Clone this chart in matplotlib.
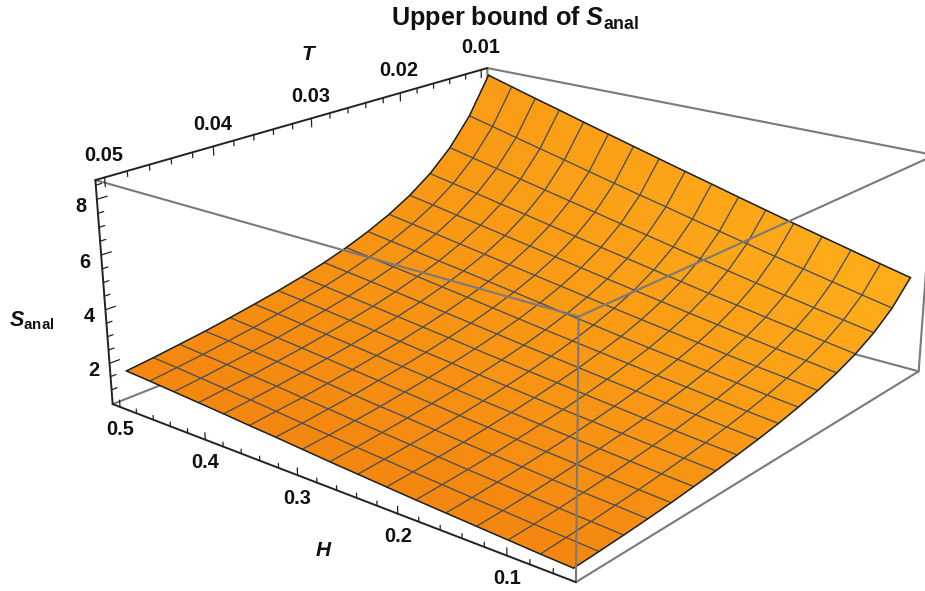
import numpy as np
import matplotlib
matplotlib.use('Agg')
import matplotlib.pyplot as plt
from mpl_toolkits.mplot3d import proj3d

plt.rcParams['font.family'] = ['Liberation Sans', 'DejaVu Sans']
plt.rcParams['mathtext.fontset'] = 'custom'
plt.rcParams['mathtext.bf'] = 'Liberation Sans:bold'
plt.rcParams['mathtext.bfit'] = 'Liberation Sans:italic:bold'

# mesh values, rows go along H, columns along T
H_mesh = [0.05, 0.078125, 0.10625, 0.134375, 0.1625, 0.190625, 0.21875, 0.246875, 0.275,
          0.303125, 0.33125, 0.359375, 0.3875, 0.415625, 0.44375, 0.471875, 0.5]
T_mesh = [0.01, 0.0125, 0.015, 0.0175, 0.02, 0.0225, 0.025, 0.0275, 0.03,
          0.0325, 0.035, 0.0375, 0.04, 0.0425, 0.045, 0.0475, 0.05]
S_mesh = [
    [4.12, 3.31, 2.74, 2.32, 2.00, 1.75, 1.55, 1.38, 1.24, 1.12, 1.01, 0.92, 0.83, 0.76, 0.70, 0.65, 0.61],
    [4.37, 3.52, 2.92, 2.48, 2.14, 1.88, 1.66, 1.48, 1.33, 1.20, 1.09, 0.99, 0.90, 0.83, 0.76, 0.71, 0.66],
    [4.63, 3.74, 3.10, 2.64, 2.28, 2.00, 1.78, 1.59, 1.43, 1.29, 1.17, 1.07, 0.97, 0.89, 0.82, 0.76, 0.72],
    [4.89, 3.96, 3.29, 2.80, 2.43, 2.13, 1.90, 1.70, 1.53, 1.38, 1.26, 1.15, 1.05, 0.96, 0.89, 0.83, 0.78],
    [5.15, 4.18, 3.48, 2.97, 2.58, 2.27, 2.02, 1.81, 1.63, 1.48, 1.35, 1.23, 1.13, 1.04, 0.96, 0.89, 0.84],
    [5.42, 4.41, 3.68, 3.14, 2.73, 2.41, 2.14, 1.93, 1.74, 1.58, 1.44, 1.32, 1.21, 1.11, 1.03, 0.96, 0.90],
    [5.69, 4.64, 3.88, 3.32, 2.89, 2.55, 2.27, 2.05, 1.85, 1.69, 1.54, 1.41, 1.30, 1.19, 1.11, 1.03, 0.97],
    [5.97, 4.87, 4.08, 3.50, 3.05, 2.69, 2.41, 2.17, 1.97, 1.79, 1.64, 1.50, 1.38, 1.28, 1.19, 1.11, 1.04],
    [6.24, 5.11, 4.29, 3.68, 3.21, 2.84, 2.54, 2.29, 2.08, 1.90, 1.74, 1.60, 1.48, 1.37, 1.27, 1.18, 1.11],
    [6.52, 5.34, 4.49, 3.86, 3.37, 2.99, 2.68, 2.42, 2.20, 2.01, 1.85, 1.70, 1.57, 1.45, 1.35, 1.26, 1.19],
    [6.80, 5.58, 4.70, 4.04, 3.54, 3.14, 2.82, 2.55, 2.32, 2.13, 1.95, 1.80, 1.67, 1.54, 1.44, 1.34, 1.27],
    [7.08, 5.82, 4.91, 4.23, 3.71, 3.29, 2.96, 2.68, 2.44, 2.24, 2.06, 1.90, 1.76, 1.64, 1.52, 1.43, 1.34],
    [7.36, 6.07, 5.12, 4.42, 3.87, 3.44, 3.10, 2.81, 2.56, 2.35, 2.17, 2.00, 1.86, 1.73, 1.61, 1.51, 1.42],
    [7.65, 6.31, 5.33, 4.60, 4.04, 3.59, 3.23, 2.94, 2.68, 2.46, 2.27, 2.10, 1.95, 1.82, 1.69, 1.59, 1.49],
    [7.93, 6.55, 5.54, 4.79, 4.20, 3.74, 3.37, 3.06, 2.80, 2.57, 2.38, 2.20, 2.04, 1.90, 1.78, 1.66, 1.56],
    [8.22, 6.80, 5.75, 4.97, 4.37, 3.89, 3.50, 3.18, 2.91, 2.68, 2.48, 2.30, 2.13, 1.99, 1.85, 1.74, 1.63],
    [8.51, 7.04, 5.96, 5.15, 4.53, 4.04, 3.64, 3.30, 3.02, 2.78, 2.57, 2.39, 2.22, 2.06, 1.93, 1.80, 1.69],
]
# plot range of the box
H_lim = (0.041, 0.509)
T_lim = (0.0092, 0.0508)
S_lim = (0.452, 8.678)
# ticks
H_major = [0.1, 0.2, 0.3, 0.4, 0.5]
H_minor = [0.06, 0.08, 0.12, 0.14, 0.16, 0.18, 0.22, 0.24, 0.26, 0.28, 0.32, 0.34, 0.36, 0.38, 0.42, 0.44, 0.46, 0.48]
T_major = [0.01, 0.02, 0.03, 0.04, 0.05]
T_minor = [0.012, 0.014, 0.016, 0.018, 0.022, 0.024, 0.026, 0.028, 0.032, 0.034, 0.036, 0.038, 0.042, 0.044, 0.046, 0.048]
S_major = [2, 4, 6, 8]
S_minor = [1, 1.5, 2.5, 3, 3.5, 4.5, 5, 5.5, 6.5, 7, 7.5, 8.5]

fig = plt.figure(figsize=(9.25, 5.91), dpi=100)
ax = fig.add_axes([0, 0, 1, 1], projection='3d')
ax.set_axis_off()
ax.computed_zorder = False
ax.set_box_aspect((1, 1, 0.4))
ax.view_init(elev=19.7715, azim=129.041)
ax.set_proj_type('persp', focal_length=0.4351)
ax.set_xlim(*H_lim)
ax.set_ylim(*T_lim)
ax.set_zlim(*S_lim)

# put the box where it is in the picture
scale, cx, cy = 4506.42, 523.8, 279.59
vl = ax.viewLim
L = scale * vl.width
ax.set_position([(cx + scale * vl.x0) / 925, (591 - cy + scale * vl.y0) / 591, L / 925, scale * vl.height / 591])

H, T = np.meshgrid(H_mesh, T_mesh, indexing='ij')
S = np.array(S_mesh)

# facets get lighter towards low T and low H
c0 = np.array([0xF4, 0x86, 0x0F, 0xFF]) / 255
c1 = np.array([0xFF, 0xAE, 0x1A, 0xFF]) / 255
nc = len(H_mesh) - 1
fc = np.zeros((nc, nc, 4))
for i in range(nc):
    for j in range(nc):
        f = (1 - (j + 0.5) / nc) * (1 - 0.45 * (i + 0.5) / nc)
        fc[i, j] = c0 + (c1 - c0) * f

def seg(p, q, color, lw, z):
    ax.plot([p[0], q[0]], [p[1], q[1]], [p[2], q[2]], color=color, lw=lw, zorder=z,
            clip_on=False, solid_capstyle='round')

h0, h1 = H_lim
t0, t1 = T_lim
s0, s1 = S_lim
grey = '#7a7a7a'
# box edges behind the surface
seg((h1, t1, s0), (h1, t0, s0), grey, 1.5, 1)
seg((h1, t0, s0), (h0, t0, s0), grey, 1.5, 1)
seg((h1, t0, s0), (h1, t0, s1), grey, 1.5, 1)
seg((h1, t0, s1), (h0, t0, s1), grey, 1.5, 1)
seg((h0, t0, s1), (h0, t0, s0), grey, 1.5, 1)
seg((h0, t0, s0), (h0, t1, s0), grey, 1.5, 1)

surf = ax.plot_surface(H, T, S, facecolors=fc, rstride=1, cstride=1, shade=False,
                       edgecolor='#505050', linewidth=0.85, zorder=2)
surf.set_clip_on(False)
ax.plot(H_mesh, [T_mesh[0]] * 17, S[:, 0], color='#222222', lw=1.0, zorder=3, clip_on=False)
ax.plot(H_mesh, [T_mesh[-1]] * 17, S[:, -1], color='#222222', lw=1.0, zorder=3, clip_on=False)
ax.plot([H_mesh[0]] * 17, T_mesh, S[0, :], color='#222222', lw=1.0, zorder=3, clip_on=False)
ax.plot([H_mesh[-1]] * 17, T_mesh, S[-1, :], color='#222222', lw=1.0, zorder=3, clip_on=False)

# box edges in front of the surface
seg((h1, t1, s1), (h0, t1, s1), grey, 1.5, 4)
seg((h0, t1, s1), (h0, t0, s1), grey, 1.5, 4)
seg((h0, t1, s1), (h0, t1, s0), grey, 1.5, 4)

# axes with ticks
ax_col = '#222222'
seg((h1, t1, s1), (h1, t0, s1), ax_col, 1.4, 5)
seg((h1, t1, s1), (h1, t1, s0), ax_col, 1.4, 5)
seg((h1, t1, s0), (h0, t1, s0), ax_col, 1.4, 5)
for v in T_major:
    seg((h1, v, s1), (h1, v, s1 - 0.33), ax_col, 0.9, 5)
for v in T_minor:
    seg((h1, v, s1), (h1, v, s1 - 0.2), ax_col, 0.9, 5)
for v in H_major:
    seg((v, t1, s0), (v, t1, s0 + 0.26), ax_col, 0.9, 5)
for v in H_minor:
    seg((v, t1, s0), (v, t1, s0 + 0.16), ax_col, 0.9, 5)
for v in S_major:
    seg((h1, t1, v), (h1, t1 - 0.0009, v), ax_col, 0.9, 5)
for v in S_minor:
    seg((h1, t1, v), (h1, t1 - 0.0005, v), ax_col, 0.9, 5)

M = ax.get_proj()
def tick_label(p, text, dx, dy):
    u, v, _ = proj3d.proj_transform(p[0], p[1], p[2], M)
    ax.annotate(text, (u, v), xytext=(dx, dy), textcoords='offset pixels', ha='center', va='center',
                fontsize=14.3, fontweight='bold', color='#111111', annotation_clip=False)

for v in T_major:
    tick_label((h1, v, s1), '%.2f' % v, -1, 22)
for v in H_major:
    tick_label((v, t1, s0), '%.1f' % v, 0, -23)
for v in S_major:
    tick_label((h1, t1, v), '%d' % v, -16, -7)

def label(x, y, text, size, va='center'):
    fig.text(x / 925, 1 - y / 591, text, ha='center', va=va, fontsize=size, fontweight='bold', color='#111111')

label(309, 54, r'$\mathbfit{T}$', 15)
label(324, 550, r'$\mathbfit{H}$', 15)
label(32, 321, r'$\mathbfit{S}_{\mathbf{anal}}$', 15.5)
label(515, 25, r'Upper bound of $\mathbfit{S}_{\mathbf{anal}}$', 18.2, va='baseline')

fig.savefig('out.png')
